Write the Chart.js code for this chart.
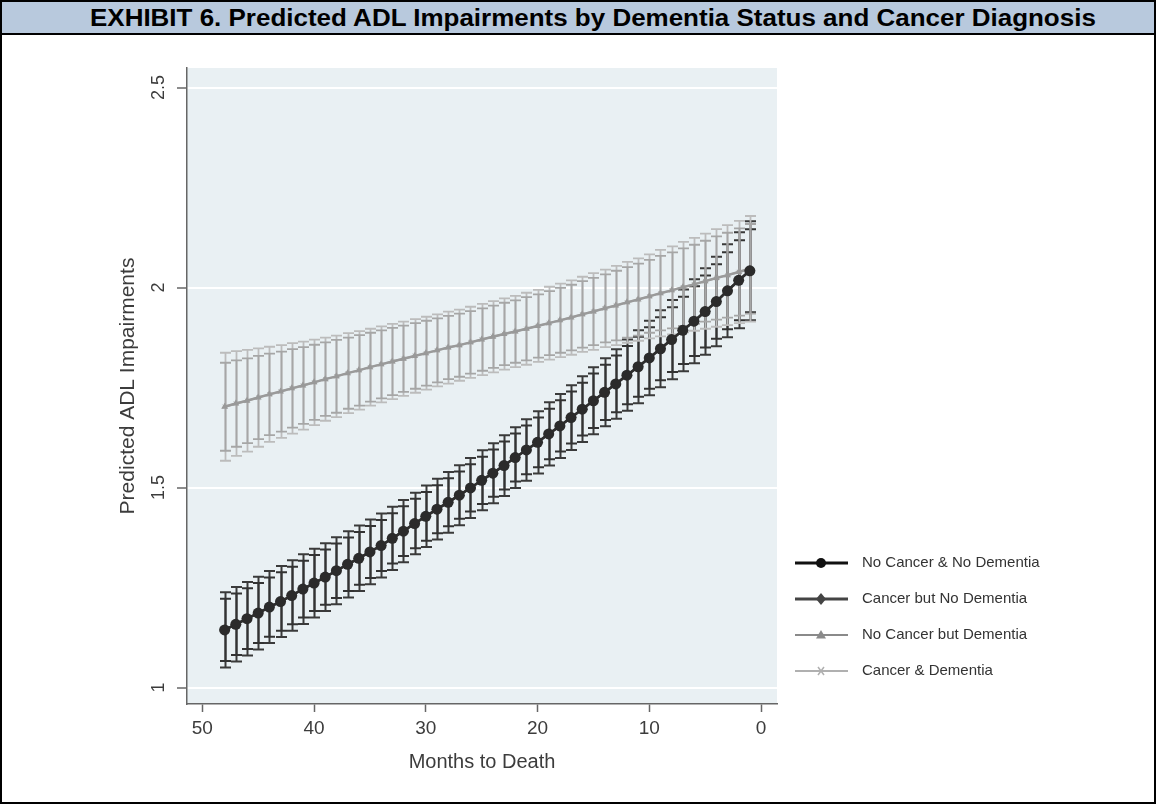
<!DOCTYPE html>
<html>
<head>
<meta charset="utf-8">
<script src="https://cdn.jsdelivr.net/npm/chart.js@4.4.1/dist/chart.umd.min.js"></script>
<style>
html, body { margin: 0; padding: 0; background: #fff; }
#wrap { position: relative; width: 1156px; height: 805px; overflow: hidden; }
canvas { position: absolute; left: 0; top: 0; }
#title { position: absolute; left: 0; top: 0; width: 1156px; height: 35px; box-sizing: border-box;
  border: 2px solid #000; background: #b8c9dd; white-space: nowrap; }
#titleText { position: absolute; left: 88px; top: 3px; line-height: 26px; font: bold 23px "Liberation Sans", Arial, sans-serif;
  color: #000; transform-origin: left center; }
#frame { position: absolute; left: 0; top: 0; width: 1156px; height: 804px; border: 2px solid #000;
  box-sizing: border-box; pointer-events: none; }
</style>
</head>
<body>
<div id="wrap">
  <canvas id="chart" width="1156" height="805"></canvas>
  <div id="title"><span id="titleText">EXHIBIT 6. Predicted ADL Impairments by Dementia Status and Cancer Diagnosis</span></div>
  <div id="frame"></div>
</div>
<script>
// months to death, left (48) to right (1)
const months = [48,47,46,45,44,43,42,41,40,39,38,37,36,35,34,33,32,31,30,29,28,27,26,25,
  24,23,22,21,20,19,18,17,16,15,14,13,12,11,10,9,8,7,6,5,4,3,2,1]

// predicted values
const noCancerNoDem = [1.144,1.158,1.172,1.186,1.201,1.215,1.230,1.246,1.261,1.276,1.292,1.308,
  1.323,1.339,1.355,1.373,1.391,1.410,1.428,1.446,1.463,1.481,1.499,1.518,
  1.536,1.555,1.575,1.594,1.613,1.634,1.654,1.675,1.696,1.717,1.738,1.759,
  1.781,1.802,1.824,1.847,1.870,1.893,1.916,1.940,1.965,1.992,2.018,2.042]
const cancerNoDem = [1.144,1.158,1.172,1.186,1.201,1.215,1.230,1.246,1.261,1.276,1.292,1.308,
  1.323,1.339,1.355,1.373,1.391,1.410,1.428,1.446,1.463,1.481,1.499,1.518,
  1.536,1.555,1.575,1.594,1.613,1.634,1.654,1.675,1.696,1.717,1.738,1.759,
  1.781,1.802,1.824,1.847,1.870,1.893,1.916,1.940,1.965,1.992,2.018,2.042]
const noCancerDem = [1.702,1.710,1.717,1.725,1.733,1.740,1.748,1.755,1.763,1.771,1.778,1.786,
  1.793,1.801,1.808,1.815,1.822,1.829,1.836,1.843,1.850,1.856,1.863,1.870,
  1.877,1.884,1.890,1.897,1.904,1.911,1.918,1.925,1.933,1.940,1.948,1.955,
  1.963,1.970,1.978,1.986,1.993,2.001,2.008,2.016,2.024,2.031,2.039,2.047]
const cancerDem = [1.702,1.710,1.717,1.725,1.733,1.740,1.748,1.755,1.763,1.771,1.778,1.786,
  1.793,1.801,1.808,1.815,1.822,1.829,1.836,1.843,1.850,1.856,1.863,1.870,
  1.877,1.884,1.890,1.897,1.904,1.911,1.918,1.925,1.933,1.940,1.948,1.955,
  1.963,1.970,1.978,1.986,1.993,2.001,2.008,2.016,2.024,2.031,2.039,2.047]

// half width of the confidence intervals
const ciNoCancerNoDem = [.078,.077,.076,.075,.074,.073,.072,.071,.070,.069,
  .068,.067,.066,.065,.064,.063,.062,.062,.061,.060,
  .060,.059,.059,.059,.059,.060,.060,.061,.062,.063,
  .064,.065,.066,.068,.069,.071,.073,.075,.077,.079,
  .081,.084,.087,.090,.093,.096,.100,.104]
const ciCancerNoDem = [.094,.093,.092,.091,.090,.089,.088,.087,.086,.085,
  .084,.083,.082,.081,.080,.079,.078,.077,.077,.076,
  .076,.075,.075,.075,.075,.076,.076,.077,.078,.079,
  .080,.081,.082,.084,.085,.087,.089,.091,.093,.096,
  .099,.102,.105,.108,.112,.116,.120,.124]
const ciNoCancerDem = [.110,.108,.106,.104,.102,.100,.098,.096,.094,.092,
  .091,.089,.088,.086,.085,.084,.083,.082,.081,.080,
  .079,.079,.078,.078,.078,.078,.078,.079,.079,.080,
  .081,.082,.083,.084,.085,.087,.088,.090,.091,.093,
  .095,.097,.099,.101,.104,.106,.109,.112]
const ciCancerDem = [.135,.131,.127,.123,.119,.116,.113,.110,.107,.104,
  .102,.100,.098,.096,.095,.094,.093,.092,.091,.090,
  .090,.089,.089,.089,.089,.089,.089,.090,.090,.091,
  .092,.093,.094,.096,.097,.099,.101,.103,.105,.108,
  .110,.113,.116,.119,.122,.125,.128,.132]

const seriesNames = ["No Cancer & No Dementia", "Cancer but No Dementia", "No Cancer but Dementia", "Cancer & Dementia"]
const xTicks = [50, 40, 30, 20, 10, 0]
const yTicks = [1, 1.5, 2, 2.5]

// fit title width
const titleText = document.getElementById("titleText")
titleText.style.transform = "scaleX(" + (1006 / titleText.offsetWidth) + ")"

const toPoints = (vals) => vals.map((v, i) => ({ x: months[i], y: v }))
const FONT = '"Liberation Sans", Arial, sans-serif'

const plotBg = {
  id: "plotBg",
  beforeDraw(chart) {
    const { ctx, chartArea: a } = chart
    ctx.save()
    ctx.fillStyle = "#e9f0f3"
    ctx.fillRect(a.left, a.top, a.right - a.left, a.bottom - a.top)
    ctx.restore()
  }
}

const errorBars = {
  id: "errorBars",
  beforeDatasetsDraw(chart) {
    const { ctx, scales: { x, y } } = chart
    ;[1, 0, 3, 2].forEach(i => {
      const ds = chart.data.datasets[i]
      ctx.save()
      ctx.strokeStyle = ds.barColor
      ctx.lineWidth = ds.barWidth
      ds.data.forEach((p, j) => {
        const px = Math.round(x.getPixelForValue(p.x)) + 0.5
        const top = y.getPixelForValue(p.y + ds.ci[j])
        const bot = y.getPixelForValue(p.y - ds.ci[j])
        ctx.beginPath()
        ctx.moveTo(px, top); ctx.lineTo(px, bot)
        ctx.moveTo(px - 5.5, top); ctx.lineTo(px + 5.5, top)
        ctx.moveTo(px - 5.5, bot); ctx.lineTo(px + 5.5, bot)
        ctx.stroke()
      })
      ctx.restore()
    })
  }
}

const drawMarker = (ctx, kind, cx, cy, color) => {
  ctx.fillStyle = color
  ctx.strokeStyle = color
  ctx.beginPath()
  if (kind === "circle") {
    ctx.arc(cx, cy, 5, 0, Math.PI * 2)
    ctx.fill()
  } else if (kind === "diamond") {
    ctx.moveTo(cx, cy - 6); ctx.lineTo(cx + 5, cy); ctx.lineTo(cx, cy + 6); ctx.lineTo(cx - 5, cy)
    ctx.closePath(); ctx.fill()
  } else if (kind === "triangle") {
    ctx.moveTo(cx, cy - 5); ctx.lineTo(cx + 5, cy + 3.5); ctx.lineTo(cx - 5, cy + 3.5)
    ctx.closePath(); ctx.fill()
  } else {
    ctx.lineWidth = 1.5
    ctx.moveTo(cx - 3, cy - 4); ctx.lineTo(cx + 3, cy + 4)
    ctx.moveTo(cx + 3, cy - 4); ctx.lineTo(cx - 3, cy + 4)
    ctx.stroke()
  }
}

const axisText = {
  id: "axisText",
  afterDraw(chart) {
    const { ctx, scales: { x, y } } = chart
    ctx.save()
    ctx.fillStyle = "#3c3c3c"
    ctx.textAlign = "center"
    ctx.textBaseline = "middle"
    // y tick labels, vertical
    ctx.font = "18px " + FONT
    y.ticks.forEach(t => {
      ctx.save()
      ctx.translate(159, y.getPixelForValue(t.value))
      ctx.rotate(-Math.PI / 2)
      ctx.fillText(String(t.value), 0, 0)
      ctx.restore()
    })
    // axis titles
    ctx.font = "21px " + FONT
    ctx.save()
    ctx.translate(128, (chart.chartArea.top + chart.chartArea.bottom) / 2)
    ctx.rotate(-Math.PI / 2)
    ctx.fillText("Predicted ADL Impairments", 0, 0)
    ctx.restore()
    ctx.font = "20px " + FONT
    ctx.fillText("Months to Death", (chart.chartArea.left + chart.chartArea.right) / 2, 762)

    // legend
    const legendRows = [
      { kind: "circle", color: "#111", width: 3 },
      { kind: "diamond", color: "#444", width: 3 },
      { kind: "triangle", color: "#8a8a8a", width: 2 },
      { kind: "cross", color: "#b0b0b0", width: 2 }
    ]
    ctx.font = "15px " + FONT
    ctx.textAlign = "left"
    legendRows.forEach((r, i) => {
      const ly = 563 + i * 36
      ctx.strokeStyle = r.color
      ctx.lineWidth = r.width
      ctx.beginPath()
      ctx.moveTo(795, ly); ctx.lineTo(848, ly)
      ctx.stroke()
      drawMarker(ctx, r.kind, 821, ly, r.color)
      ctx.fillStyle = "#333"
      ctx.fillText(seriesNames[i], 862, ly)
    })
    ctx.restore()
  }
}

new Chart(document.getElementById("chart"), {
  type: "line",
  data: {
    datasets: [
      { label: seriesNames[0], data: toPoints(noCancerNoDem), ci: ciNoCancerNoDem,
        borderColor: "#2e2e2e", backgroundColor: "#2b2b2b", borderWidth: 2.5,
        pointStyle: "circle", pointRadius: 5.5, pointBorderWidth: 0,
        barColor: "#333", barWidth: 2 },
      { label: seriesNames[1], data: toPoints(cancerNoDem), ci: ciCancerNoDem,
        borderColor: "#444", backgroundColor: "#444", borderWidth: 2.5,
        pointStyle: "rectRot", pointRadius: 5.5, pointBorderWidth: 0,
        barColor: "#3a3a3a", barWidth: 2 },
      { label: seriesNames[2], data: toPoints(noCancerDem), ci: ciNoCancerDem,
        borderColor: "#9a9a9a", backgroundColor: "#999", borderWidth: 2.5,
        pointStyle: "triangle", pointRadius: 4, pointBorderWidth: 0,
        barColor: "#a6a6a6", barWidth: 1.8 },
      { label: seriesNames[3], data: toPoints(cancerDem), ci: ciCancerDem,
        borderColor: "#b4b4b4", backgroundColor: "#b4b4b4", borderWidth: 2,
        pointStyle: "crossRot", pointRadius: 3, pointBorderWidth: 1,
        barColor: "#bcbcbc", barWidth: 1.8 }
    ]
  },
  options: {
    responsive: false,
    animation: false,
    devicePixelRatio: 1,
    layout: { padding: { left: 0, top: 68, right: 1156 - 777, bottom: 0 } },
    plugins: { legend: { display: false }, tooltip: { enabled: false } },
    scales: {
      x: {
        type: "linear",
        reverse: true,
        min: -1.43,
        max: 51.37,
        afterBuildTicks: (s) => { s.ticks = xTicks.map(v => ({ value: v })) },
        afterFit: (s) => { s.height = 805 - 704 },
        ticks: { color: "#3c3c3c", font: { family: FONT, size: 19 }, padding: 5, maxRotation: 0 },
        grid: { drawOnChartArea: false, tickLength: 8, tickColor: "#666", tickWidth: 1.5 },
        border: { color: "#666", width: 1.5 }
      },
      y: {
        type: "linear",
        min: 0.95875,
        max: 2.549,
        afterBuildTicks: (s) => { s.ticks = yTicks.map(v => ({ value: v })) },
        afterFit: (s) => { s.width = 187 },
        ticks: { display: false },
        grid: { color: "#ffffff", lineWidth: 2, tickLength: 10, tickColor: "#666", tickWidth: 1.5 },
        border: { color: "#666", width: 1.5 }
      }
    }
  },
  plugins: [plotBg, errorBars, axisText]
})
</script>
</body>
</html>
